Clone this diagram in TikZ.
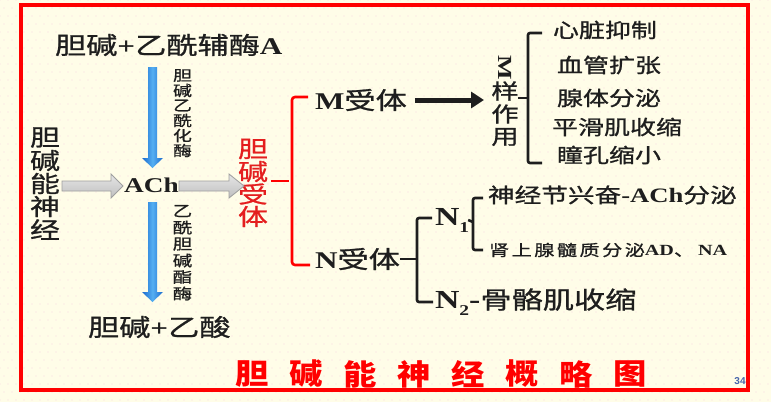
\documentclass[tikz,border=0pt]{standalone}
\usepackage{fontspec}
\setmainfont{Noto Sans CJK SC}[FakeStretch=1.3, FakeBold=1]
\newfontfamily\lat{Liberation Serif}[FakeStretch=1.3]
\newfontfamily\ttl{Noto Sans CJK SC}[FakeStretch=1.15]
\newfontfamily\pgn{Liberation Sans}
\usetikzlibrary{arrows.meta}
\newcommand\fsz[1]{\fontsize{#1}{#1}\selectfont}
\definecolor{cream}{RGB}{255,253,232}
\definecolor{ink}{RGB}{30,30,30}
\definecolor{framered}{RGB}{255,0,0}
\definecolor{txtred}{RGB}{228,30,30}
\definecolor{bluedk}{RGB}{25,105,205}
\definecolor{bluelt}{RGB}{85,175,242}
\definecolor{dotpink}{RGB}{248,218,224}
\definecolor{pgblue}{RGB}{70,100,170}
\begin{document}
\begin{tikzpicture}[x=1pt,y=-1pt,
  txt/.style={inner sep=0pt, outer sep=0pt, text=ink},
  redbr/.style={draw=framered, line width=2.6pt, rounded corners=3pt},
  blkbr/.style={draw=ink, line width=2.6pt, rounded corners=2pt},
  bluearrow/.style={left color=bluedk, right color=bluedk, middle color=bluelt},
  greyarrow/.style={top color=gray!20, middle color=white, bottom color=gray!50, draw=gray!75, line width=0.8pt},
  bigarrow/.style={draw=ink, line width=5pt, -{Triangle[length=13pt,width=16pt]}}]
\useasboundingbox (0,0) rectangle (771,402);
\fill[cream] (0,0) rectangle (771,402);
\foreach \i in {0,...,96} \foreach \j in {0,...,50} {\fill[dotpink] ({\i*8+mod(\j,2)*4},{\j*8}) circle (0.55);}

% top and bottom texts
\node[txt, anchor=west] (top) at (55,45) {\fsz{24}胆碱{\lat\bfseries +}乙酰辅酶{\lat\bfseries A}};
\node[txt] (ach) at (151.5,185) {\lat\bfseries\fsz{21}ACh};
\node[txt, anchor=west] (acid) at (88,327) {\fsz{24}胆碱{\lat\bfseries +}乙酸};

% vertical texts
\foreach \c [count=\i from 0] in {胆,碱,能,神,经}
  \node[txt, font=\fsz{23}] (nerve-\i) at (45,{137.5+23*\i}) {\c};
\foreach \c [count=\i from 0] in {胆,碱,乙,酰,化,酶}
  \node[txt, font=\fsz{14.5}] (enzA-\i) at (182.5,{75.5+15*\i}) {\c};
\foreach \c [count=\i from 0] in {乙,酰,胆,碱,酯,酶}
  \node[txt, font=\fsz{15}] (enzB-\i) at (182.5,{211+16.5*\i}) {\c};
\foreach \c [count=\i from 0] in {胆,碱,受,体}
  \node[txt, text=txtred, font=\fsz{23}] (rec-\i) at (253,{149+22.5*\i}) {\c};

% blue arrows
\shade[bluearrow] (148,67) -- (157,67) -- (157,158) -- (163,158) -- (152.5,168) -- (142,158) -- (148,158) -- cycle;
\shade[bluearrow] (148,202) -- (157,202) -- (157,292) -- (163,292) -- (152.5,302) -- (142,292) -- (148,292) -- cycle;
% grey block arrows
\shade[greyarrow] (62,181) -- (111,181) -- (111,174) -- (123,186) -- (111,198) -- (111,191) -- (62,191) -- cycle;
\shade[greyarrow] (179,181) -- (229,181) -- (229,174) -- (244,186) -- (229,198) -- (229,191) -- (179,191) -- cycle;

% red bracket
\coordinate (rb) at (289,181);
\draw[redbr] (rec-1.east |- rb) ++(3,0) -- (rb);
\draw[redbr] (308,97) -- (292,97) -- (292,265) -- (310,265);

% M branch
\node[txt, anchor=west] (mrec) at (315,100) {\fsz{24}{\lat\bfseries M}受体};
\node[txt, font=\lat\bfseries\fsz{20}] (ml-0) at (505,68) {\rotatebox{-90}{M}};
\foreach \c [count=\i] in {样,作,用}
  \node[txt, font=\fsz{21}] (ml-\i) at (505,{68+23*\i}) {\c};
\coordinate (mtip) at (484,100);
\draw[bigarrow, shorten <=8pt] (mrec.east) -- (mtip);
\draw[blkbr] (542,33) -- (528,33) -- (528,163) -- (542,163);
\draw[blkbr] (518,98) -- (528,98);
\node[txt, anchor=west, font=\fsz{20}] (m1) at (553,30) {心脏抑制};
\node[txt, anchor=west, font=\fsz{20}] (m2) at (557,65) {血管扩张};
\node[txt, anchor=west, font=\fsz{20}] (m3) at (557,98) {腺体分泌};
\node[txt, anchor=west, font=\fsz{20}] (m4) at (552,127) {平滑肌收缩};
\node[txt, anchor=west, font=\fsz{20}] (m5) at (557,155) {瞳孔缩小};

% N branch
\node[txt, anchor=west] (nrec) at (315,259) {\fsz{24}{\lat\bfseries N}受体};
\draw[blkbr] (nrec.east) -- (417,259);
\draw[blkbr] (432,218) -- (417,218) -- (417,302) -- (433,302);
\node[txt, anchor=west] (n1) at (435,220) {\lat\bfseries\fsz{26}N\raisebox{-7pt}{\fsz{15}1}};
\draw[blkbr] (n1.east) ++(-1,0) -- (473,222);
\draw[blkbr] (483,198) -- (473,198) -- (473,250) -- (483,250);
\node[txt, anchor=west, font=\fsz{20.5}] (n1a) at (488,195) {神经节兴奋{\lat\bfseries -ACh}分泌};
\node[txt, anchor=west, font=\fsz{15.5}] (n1b) at (489,250) {{\addfontfeatures{LetterSpace=16}肾上腺髓质分泌}{\lat\bfseries AD}、\hspace{4pt}{\lat\bfseries NA}};
\node[txt, anchor=west] (n2) at (435,302) {{\lat\bfseries\fsz{26}N\raisebox{-7pt}{\fsz{15}2}-}\fsz{24}骨骼肌收缩};

% title
\foreach \c [count=\i from 0] in {胆,碱,能,神,经,概,略,图}
  \node[txt, text=framered, font=\ttl\bfseries\fsz{29}] (ttl-\i) at ({252+54*\i},374) {\c};

\node[txt, text=pgblue, font=\pgn\bfseries\fsz{10}] (pg) at (740,381) {34};
\draw[framered, line width=4pt] (20.5,5) rectangle (748,389.5);
\end{tikzpicture}
\end{document}
